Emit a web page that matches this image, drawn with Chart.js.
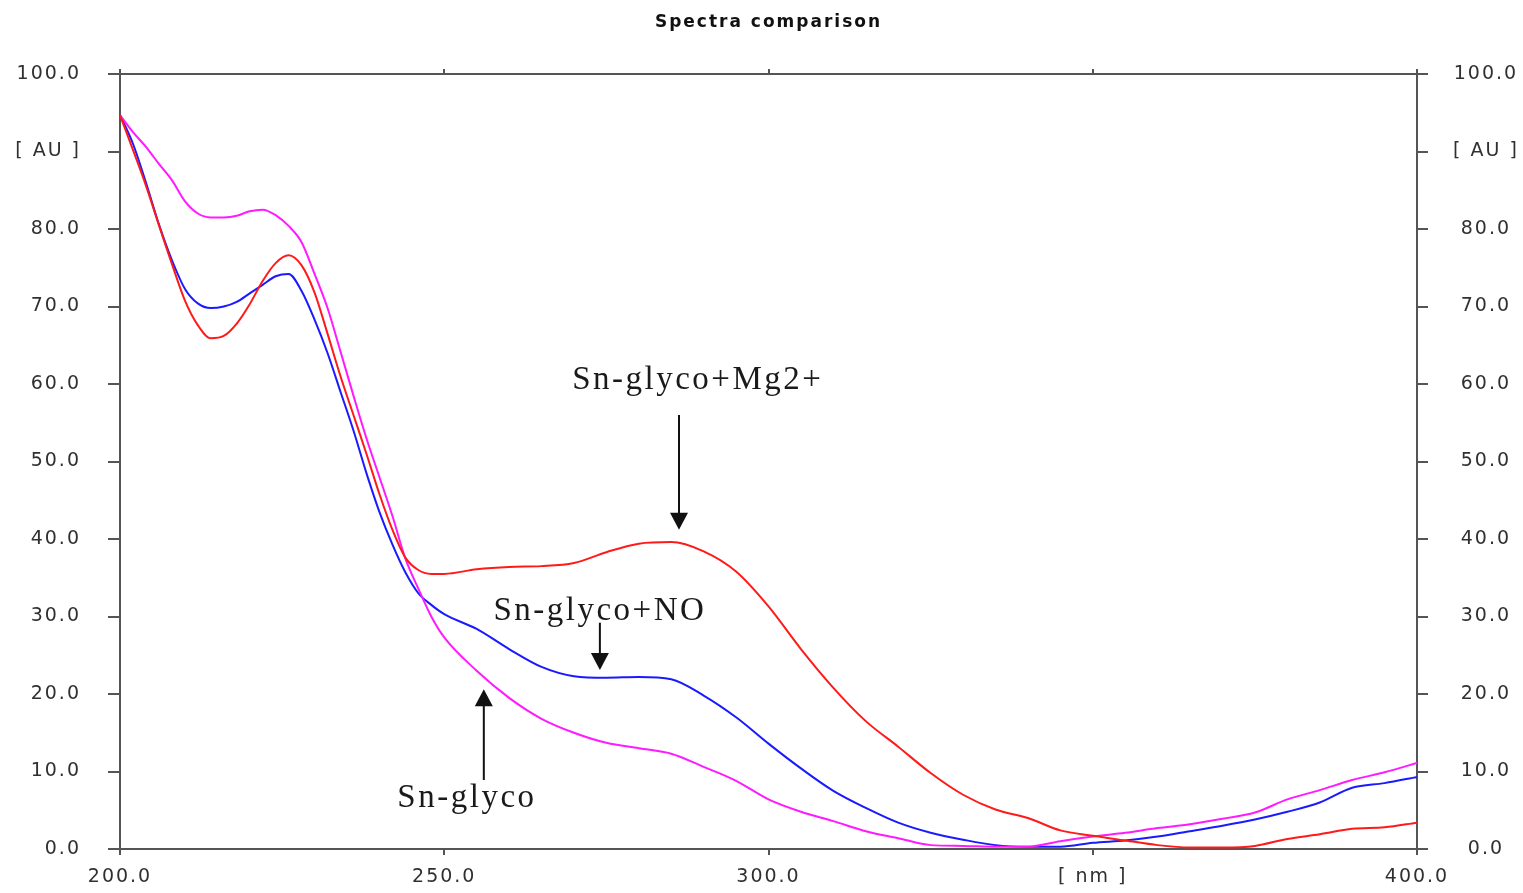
<!DOCTYPE html>
<html><head><meta charset="utf-8">
<script src="https://cdn.jsdelivr.net/npm/chart.js@4.4.1/dist/chart.umd.min.js"></script>
<style>html,body{margin:0;padding:0;background:#fff;} #wrap{width:1523px;height:893px;position:relative;}</style>
</head><body><div id="wrap"><canvas id="c"></canvas></div>
<script>
// Wavelengths (nm)
const wavelengths = [200,202,204,206,208,210,212,214,216,218,220,222,224,226,228,230,232,234,236,238,240,242,244,246,248,250,
  255,260,265,270,275,280,285,290,295,300,305,310,315,320,325,330,335,340,345,350,355,360,365,370,375,380,385,390,395,400];
// Sn-glyco (magenta)
const snGlyco = [94.7,92.5,90.6,88.4,86.3,83.6,82.0,81.5,81.5,81.7,82.3,82.5,81.8,80.4,78.3,74.2,69.8,64.2,58.5,53.0,48.0,43.0,37.5,33.6,30.0,27.3,
  23.0,19.5,16.8,15.0,13.7,13.0,12.3,10.6,8.8,6.4,4.8,3.6,2.3,1.4,0.5,0.4,0.3,0.3,1.0,1.6,2.1,2.7,3.2,3.9,4.7,6.4,7.6,8.9,9.9,11.1];
// Sn-glyco+NO (blue)
const snGlycoNO = [94.7,91.0,86.0,80.6,76.0,72.3,70.4,69.8,70.0,70.6,71.7,72.8,73.9,74.2,72.0,68.3,64.0,59.0,54.0,48.5,43.5,39.3,35.7,33.0,31.5,30.3,
  28.4,25.8,23.5,22.3,22.1,22.2,21.9,19.8,17.0,13.6,10.4,7.5,5.3,3.4,2.1,1.2,0.5,0.3,0.3,0.8,1.1,1.6,2.3,3.0,3.8,4.8,6.0,7.9,8.5,9.3];
// Sn-glyco+Mg2+ (red)
const snGlycoMg = [94.7,90.2,85.6,80.5,75.5,70.8,67.6,65.9,66.2,67.8,70.3,73.3,75.6,76.6,75.3,71.8,66.5,61.0,56.0,51.0,45.8,41.2,37.6,36.0,35.5,35.5,
  36.1,36.4,36.5,36.9,38.3,39.4,39.6,38.4,35.8,31.3,25.8,20.8,16.5,13.2,9.8,7.0,5.1,4.0,2.4,1.7,1.1,0.5,0.2,0.2,0.4,1.3,1.9,2.6,2.8,3.4];

// Annotations (data coordinates)
const annotationTexts = ['Sn-glyco+Mg2+', 'Sn-glyco+NO', 'Sn-glyco'];
const annotationX = [289.1, 274.0, 253.5];
const annotationY = [60.5, 30.7, 6.6];
const arrowX = [286.2, 274.0, 256.1];
const arrowFrom = [56.0, 29.2, 8.9];
const arrowTo = [41.2, 23.1, 20.6];

const yTickCb = v => v === 90 ? '[ AU ]' : Number(v).toFixed(1);
const xTickCb = v => v === 350 ? '[ nm ]' : Number(v).toFixed(1);
const tickFont = {family: 'DejaVu Sans', size: 19};
const axisColor = '#555555';
const labelColor = '#303030';

const spacingPlugin = {
  id: 'spacing',
  beforeUpdate(chart){ chart.ctx.letterSpacing = '2px'; },
  beforeLayout(chart){ chart.ctx.letterSpacing = '2px'; },
  beforeDraw(chart){ chart.ctx.letterSpacing = '2px'; }
};

const annotPlugin = {
  id: 'annot',
  afterDatasetsDraw(chart){
    const ctx = chart.ctx, xs = chart.scales.x, ys = chart.scales.y;
    ctx.save();
    ctx.letterSpacing = '2.5px';
    ctx.font = '33px "Liberation Serif"';
    ctx.fillStyle = '#1a1a1a';
    ctx.textAlign = 'center';
    ctx.textBaseline = 'middle';
    for (let i = 0; i < annotationTexts.length; i++) {
      ctx.fillText(annotationTexts[i], xs.getPixelForValue(annotationX[i]), ys.getPixelForValue(annotationY[i]));
    }
    ctx.strokeStyle = '#111';
    ctx.lineWidth = 2;
    for (let i = 0; i < arrowX.length; i++) {
      const x = xs.getPixelForValue(arrowX[i]);
      const y1 = ys.getPixelForValue(arrowFrom[i]);
      const y2 = ys.getPixelForValue(arrowTo[i]);
      const dir = y2 > y1 ? 1 : -1;
      ctx.beginPath();
      ctx.moveTo(x, y1);
      ctx.lineTo(x, y2 - dir * 10);
      ctx.stroke();
      ctx.beginPath();
      ctx.moveTo(x, y2);
      ctx.lineTo(x - 9, y2 - dir * 17);
      ctx.lineTo(x + 9, y2 - dir * 17);
      ctx.closePath();
      ctx.fillStyle = '#111';
      ctx.fill();
    }
    ctx.restore();
  }
};

const toPts = arr => wavelengths.map((w, i) => ({x: w, y: arr[i]}));
const gridOpts = (len) => ({drawOnChartArea: false, drawTicks: true, tickLength: len, color: axisColor, lineWidth: 2});
const borderOpts = {display: true, color: axisColor, width: 2};

new Chart(document.getElementById('c'), {
  type: 'line',
  data: {
    datasets: [
      {label: 'Sn-glyco+Mg2+', data: toPts(snGlycoMg), borderColor: '#ff1a1a', borderWidth: 2, pointRadius: 0, cubicInterpolationMode: 'monotone', fill: false},
      {label: 'Sn-glyco', data: toPts(snGlyco), borderColor: '#ff1aff', borderWidth: 2, pointRadius: 0, cubicInterpolationMode: 'monotone', fill: false},
      {label: 'Sn-glyco+NO', data: toPts(snGlycoNO), borderColor: '#1a1aff', borderWidth: 2, pointRadius: 0, cubicInterpolationMode: 'monotone', fill: false}
    ]
  },
  options: {
    responsive: true,
    maintainAspectRatio: false,
    animation: false,
    devicePixelRatio: 1,
    layout: {padding: 0},
    plugins: {legend: {display: false}, tooltip: {enabled: false}, title: {display: false}},
    scales: {
      x: {type: 'linear', position: 'bottom', min: 200, max: 400,
        ticks: {stepSize: 50, callback: xTickCb, color: labelColor, font: tickFont, padding: 11, maxRotation: 0, autoSkip: false},
        grid: gridOpts(6), border: borderOpts, afterFit(s){ s.height = 44; }},
      x2: {type: 'linear', position: 'top', min: 200, max: 400,
        ticks: {stepSize: 50, display: false},
        grid: gridOpts(5), border: borderOpts,
        title: {display: true, text: 'Spectra comparison', color: '#111', font: {family: 'DejaVu Sans', size: 17, weight: 'bold'}, padding: {top: 12, bottom: 0}},
        afterFit(s){ s.height = 74; }},
      y: {type: 'linear', position: 'left', min: 0, max: 100,
        ticks: {stepSize: 10, callback: yTickCb, color: labelColor, font: tickFont, padding: 27, autoSkip: false},
        grid: gridOpts(12), border: borderOpts, afterFit(s){ s.width = 120; }},
      y2: {type: 'linear', position: 'right', min: 0, max: 100,
        ticks: {stepSize: 10, callback: yTickCb, color: labelColor, font: tickFont, padding: 25, crossAlign: 'center', autoSkip: false},
        grid: gridOpts(11), border: borderOpts, afterFit(s){ s.width = 106; }}
    }
  },
  plugins: [spacingPlugin, annotPlugin]
});
</script>
</body></html>
